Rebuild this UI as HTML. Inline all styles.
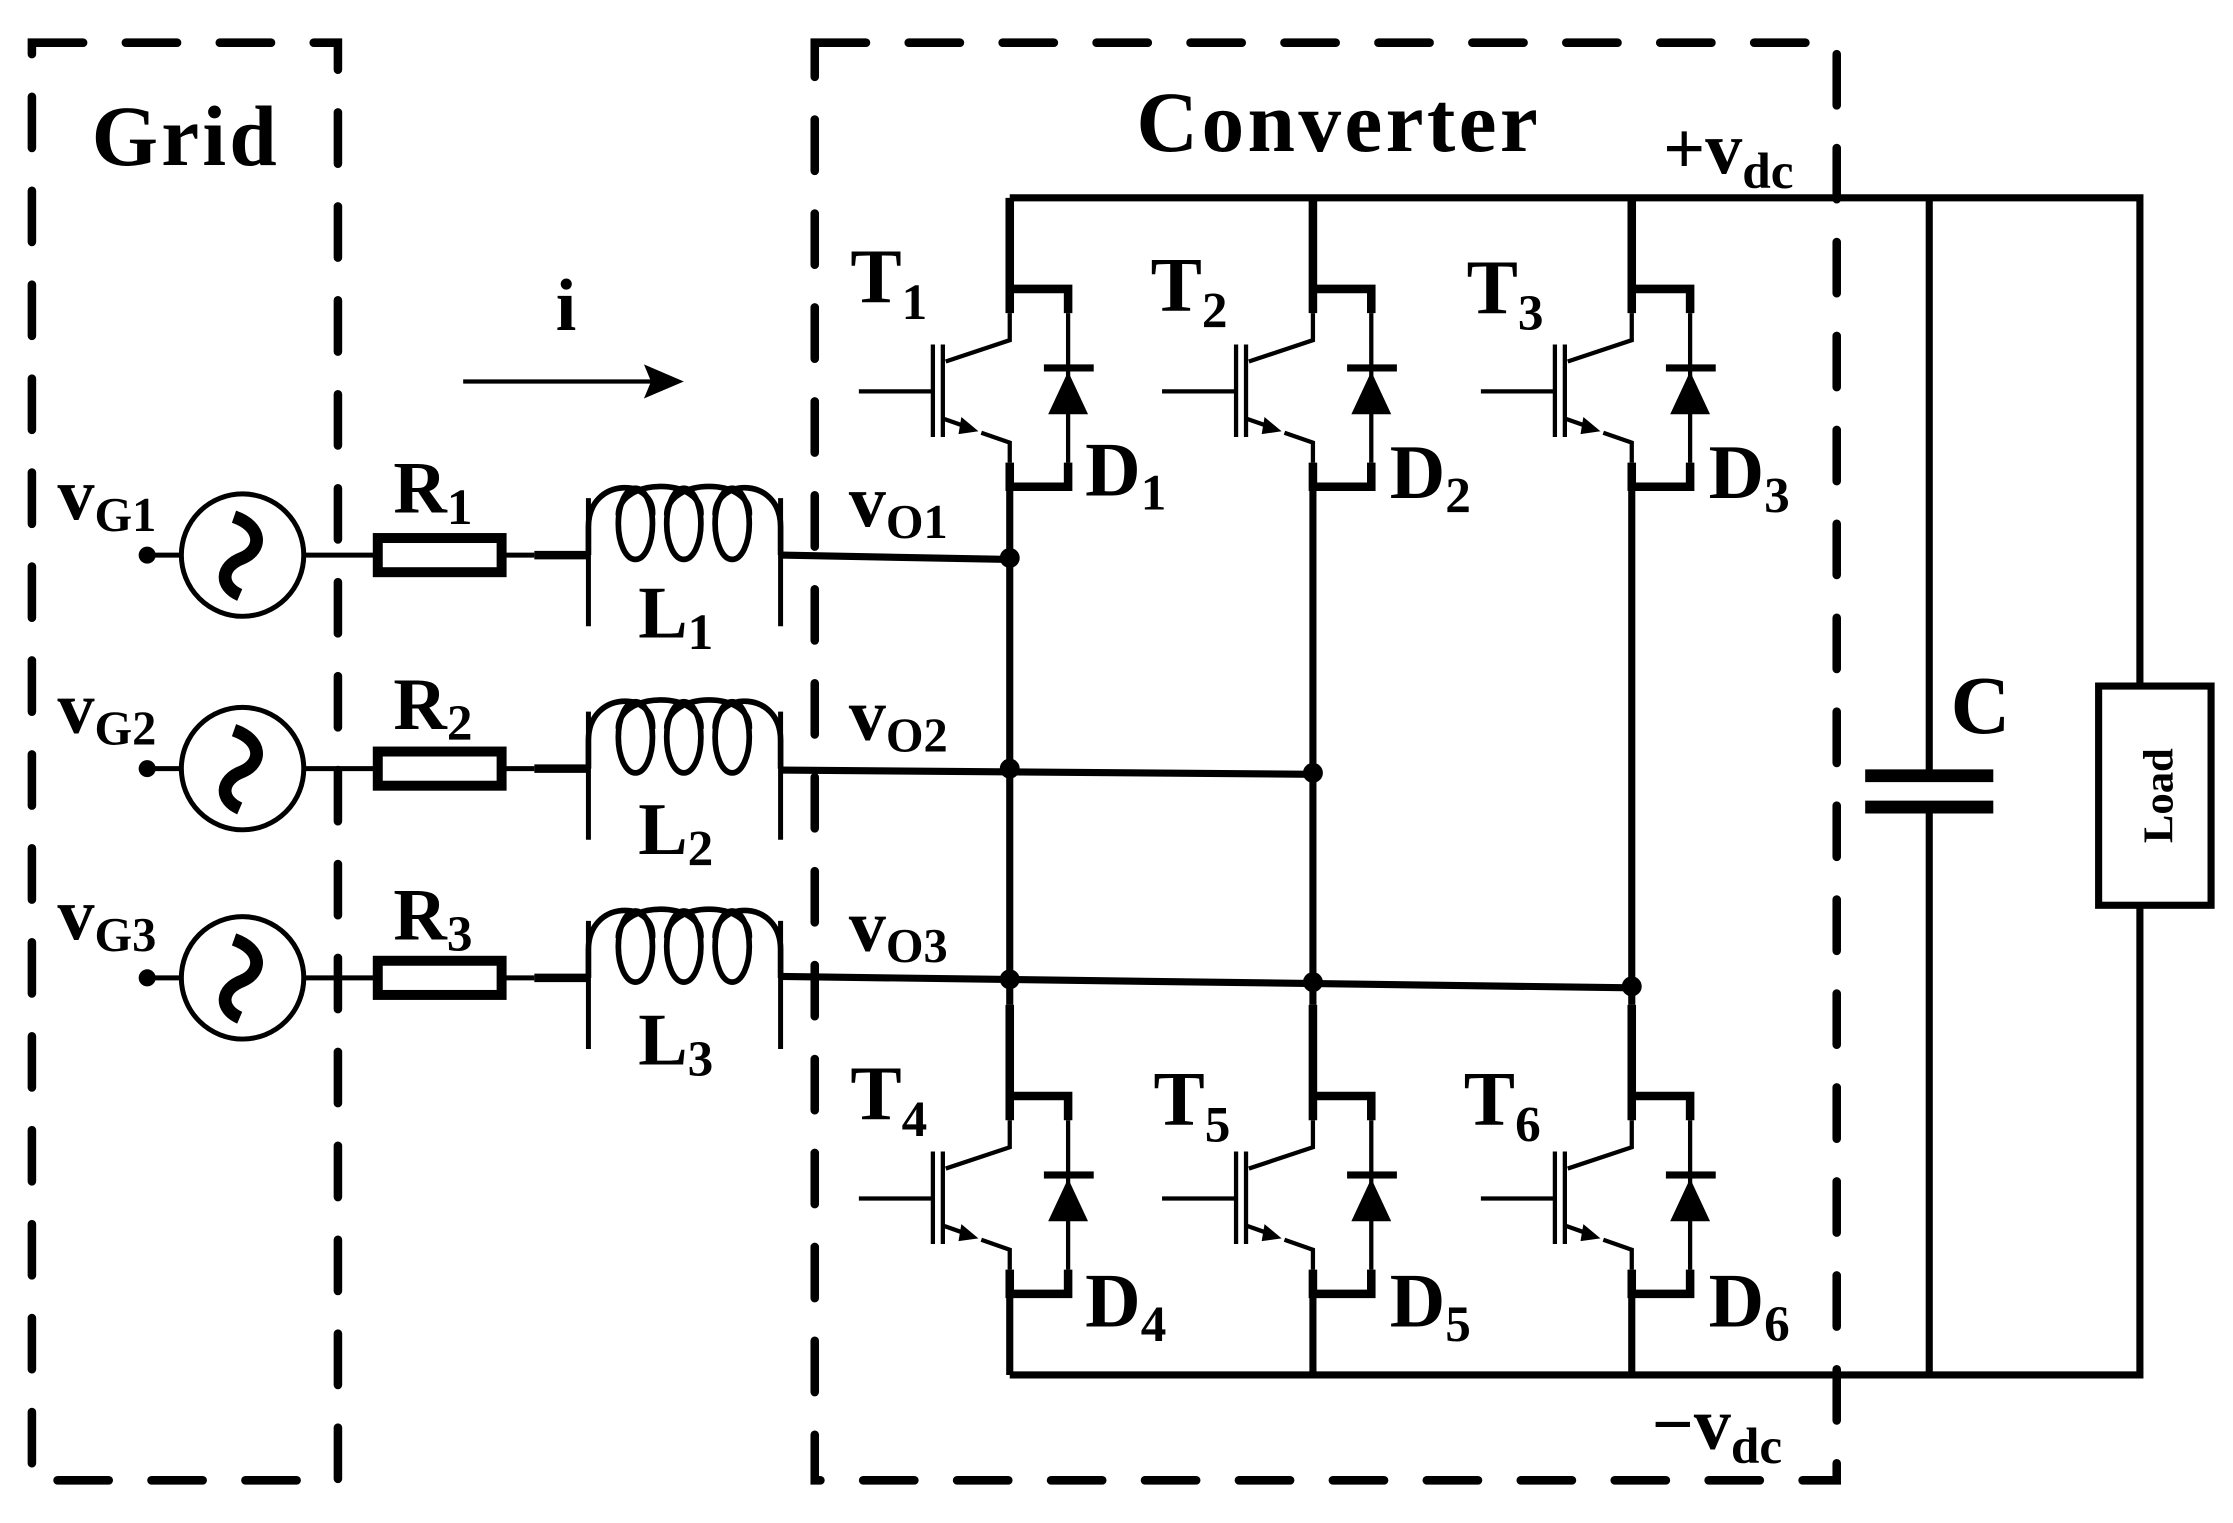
<!DOCTYPE html>
<html><head><meta charset="utf-8"><style>
html,body{margin:0;padding:0;background:#fff;}
svg{display:block;}
text{font-family:"Liberation Serif",serif;font-weight:bold;fill:#000;}
</style></head><body>
<svg width="2233" height="1523" viewBox="0 0 1568 1070" xmlns="http://www.w3.org/2000/svg">
<defs>
<g id="mod" fill="none" stroke="#000">
 <path d="M0,0 V81 M0,64 H41 V81 M0,186 V203 H41 V186" stroke-width="6"/>
 <path d="M41,81 V186 M0,81 V100 L-45,115 M-106,136 H-54 M-54,103 V168 M-47,103 V168 M-47,155 L-30,161 M-20,165 L0,172 V186" stroke-width="3"/>
 <rect x="24" y="117" width="35" height="5" fill="#000" stroke="none"/>
 <path d="M41,122 L27,152 H55 Z" fill="#000" stroke="none"/>
 <path d="M-22,164 L-34,154 L-36,166 Z" fill="#000" stroke="none"/>
</g>
<g id="src" fill="none" stroke="#000">
 <circle cx="0" cy="0" r="43" stroke-width="3.5"/>
 <path d="M-6,-27 C14,-20 14,-4 0,2 C-16,8 -16,22 -2,28" stroke-width="9"/>
 <circle cx="-67" cy="0" r="6" fill="#000" stroke="none"/>
 <path d="M-67,0 H-43 M43,0 H95" stroke-width="3.5"/>
 <rect x="95" y="-12" width="87" height="24" stroke-width="7"/>
 <path d="M182,0 H205" stroke-width="3.5"/>
 <path d="M205,0 H243" stroke-width="6"/>
 <path d="M243,-40 V50 M378,-40 V50" stroke-width="3.5"/>
 <path d="M243,0 V-20 C243,-55 290,-55 288,-28 M264,-28 C264,-55 324,-55 322,-28 M298,-28 C298,-55 358,-55 356,-28 M332,-28 C332,-55 378,-55 378,-20 V0" stroke-width="4"/>
 <ellipse cx="276" cy="-22" rx="12" ry="25" stroke-width="4"/>
 <ellipse cx="310" cy="-22" rx="12" ry="25" stroke-width="4"/>
 <ellipse cx="344" cy="-22" rx="12" ry="25" stroke-width="4"/>
</g>
</defs>

<g fill="none" stroke="#000" stroke-width="6" stroke-linecap="round" stroke-dasharray="36 30">
 <rect x="22" y="30" width="215" height="1010"/>
 <rect x="572" y="30" width="718" height="1010"/>
</g>

<use href="#src" transform="translate(170,390)"/>
<use href="#src" transform="translate(170,540)"/>
<use href="#src" transform="translate(170,687)"/>

<g stroke="#000" stroke-width="5" fill="none">
 <path d="M548,390 L709,393"/>
 <path d="M548,541 L922,544"/>
 <path d="M548,686 L1146,694"/>
 <path d="M709,342 V706 M922,342 V706 M1146,342 V706"/>
 <path d="M709,909 V966 M922,909 V966 M1146,909 V966"/>
 <path d="M709,139 H1503 V482 M1503,636 V966 H709"/>
 <path d="M1355,139 V545 M1355,567 V966"/>
 <path d="M1310,545 H1400 M1310,567 H1400" stroke-width="9"/>
 <rect x="1474" y="482" width="79" height="154"/>
</g>
<g fill="#000">
 <circle cx="709" cy="392" r="7"/><circle cx="709" cy="540" r="7"/><circle cx="922" cy="543" r="7"/>
 <circle cx="709" cy="688" r="7"/><circle cx="922" cy="690" r="7"/><circle cx="1146" cy="693" r="7"/>
</g>

<use href="#mod" transform="translate(709,139)"/>
<use href="#mod" transform="translate(922,139)"/>
<use href="#mod" transform="translate(1146,139)"/>
<use href="#mod" transform="translate(709,706)"/>
<use href="#mod" transform="translate(922,706)"/>
<use href="#mod" transform="translate(1146,706)"/>

<path d="M325,268 H462" stroke="#000" stroke-width="3"/>
<path d="M480,268 L452,256 L457,268 L452,280 Z" fill="#000"/>

<text x="64" y="116" font-size="60" textLength="130">Grid</text>
<text x="798" y="106" font-size="60" textLength="282">Converter</text>
<text x="390" y="232" font-size="52">i</text>
<text x="1168" y="122" font-size="52">+v<tspan font-size="36" dy="10">dc</tspan></text>
<text x="1160" y="1018" font-size="52">−v<tspan font-size="36" dy="10">dc</tspan></text>

<text x="40" y="365" font-size="52">v<tspan font-size="34" dy="8">G1</tspan></text>
<text x="40" y="515" font-size="52">v<tspan font-size="34" dy="8">G2</tspan></text>
<text x="40" y="660" font-size="52">v<tspan font-size="34" dy="8">G3</tspan></text>
<text x="276" y="360" font-size="52">R<tspan font-size="36" dy="8">1</tspan></text>
<text x="276" y="512" font-size="52">R<tspan font-size="36" dy="8">2</tspan></text>
<text x="276" y="660" font-size="52">R<tspan font-size="36" dy="8">3</tspan></text>
<text x="448" y="448" font-size="52">L<tspan font-size="36" dy="8">1</tspan></text>
<text x="448" y="600" font-size="52">L<tspan font-size="36" dy="8">2</tspan></text>
<text x="448" y="748" font-size="52">L<tspan font-size="36" dy="8">3</tspan></text>
<text x="596" y="370" font-size="52">v<tspan font-size="34" dy="8">O1</tspan></text>
<text x="596" y="520" font-size="52">v<tspan font-size="34" dy="8">O2</tspan></text>
<text x="596" y="668" font-size="52">v<tspan font-size="34" dy="8">O3</tspan></text>

<text x="597" y="212" font-size="54">T<tspan font-size="36" dy="12">1</tspan></text>
<text x="808" y="218" font-size="54">T<tspan font-size="36" dy="12">2</tspan></text>
<text x="1030" y="220" font-size="54">T<tspan font-size="36" dy="12">3</tspan></text>
<text x="597" y="786" font-size="54">T<tspan font-size="36" dy="12">4</tspan></text>
<text x="810" y="790" font-size="54">T<tspan font-size="36" dy="12">5</tspan></text>
<text x="1028" y="790" font-size="54">T<tspan font-size="36" dy="12">6</tspan></text>

<text x="762" y="348" font-size="54">D<tspan font-size="36" dy="10">1</tspan></text>
<text x="976" y="350" font-size="54">D<tspan font-size="36" dy="10">2</tspan></text>
<text x="1200" y="350" font-size="54">D<tspan font-size="36" dy="10">3</tspan></text>
<text x="762" y="932" font-size="54">D<tspan font-size="36" dy="10">4</tspan></text>
<text x="976" y="932" font-size="54">D<tspan font-size="36" dy="10">5</tspan></text>
<text x="1200" y="932" font-size="54">D<tspan font-size="36" dy="10">6</tspan></text>

<text x="1370" y="515" font-size="58">C</text>
<text transform="translate(1526,559) rotate(-90)" font-size="30" text-anchor="middle">Load</text>
</svg>
</body></html>
